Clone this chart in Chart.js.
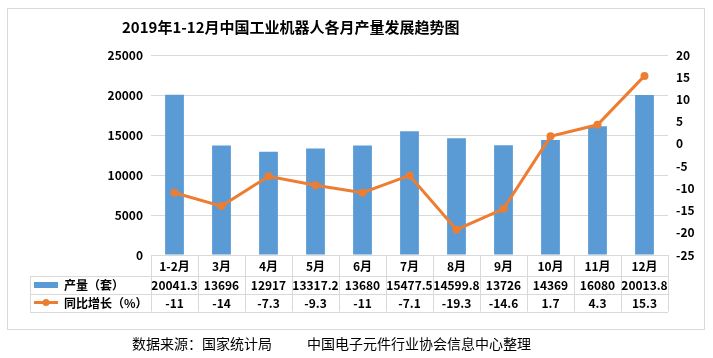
<!DOCTYPE html>
<html><head><meta charset="utf-8">
<script src="https://cdn.jsdelivr.net/npm/chart.js@4/dist/chart.umd.min.js"></script>
<style>html,body{margin:0;padding:0;background:#fff;}canvas{display:block;}</style>
</head><body>
<canvas id="c" width="713" height="358"></canvas>
<script>
const categories = ['1-2月','3月','4月','5月','6月','7月','8月','9月','10月','11月','12月'];
const output = [20041.3,13696,12917,13317.2,13680,15477.5,14599.8,13726,14369,16080,20013.8];
const growth = [-11,-14,-7.3,-9.3,-11,-7.1,-19.3,-14.6,1.7,4.3,15.3];
const outputLabels = ['20041.3','13696','12917','13317.2','13680','15477.5','14599.8','13726','14369','16080','20013.8'];
const growthLabels = ['-11','-14','-7.3','-9.3','-11','-7.1','-19.3','-14.6','1.7','4.3','15.3'];
const titleText = '2019年1-12月中国工业机器人各月产量发展趋势图';
const seriesNames = ['产量（套）','同比增长（%）'];
const footerLeft = '数据来源：国家统计局';
const footerRight = '中国电子元件行业协会信息中心整理';

const BLUE = '#5B9BD5', ORANGE = '#ED7D31', GRID = '#D9D9D9';
const FONT = '"Noto Sans CJK SC","Microsoft YaHei",sans-serif';

const decor = {
  id: 'decor',
  beforeDraw(chart) {
    const ctx = chart.ctx;
    ctx.save();
    ctx.fillStyle = '#fff';
    ctx.fillRect(0, 0, chart.width, chart.height);
    ctx.strokeStyle = GRID; ctx.lineWidth = 1;
    ctx.strokeRect(7.5, 8.5, 697, 321);
    ctx.restore();
  },
  afterDraw(chart) {
    const ctx = chart.ctx;
    const x = chart.scales.x;
    const area = chart.chartArea;
    const n = categories.length;
    const colW = (area.right - area.left) / n;
    const yTop = area.bottom, r1 = yTop + 21, r2 = r1 + 17.5, r3 = r2 + 18;
    const tableLeft = 30;
    ctx.save();
    ctx.strokeStyle = GRID; ctx.lineWidth = 1;
    ctx.beginPath();
    for (let i = 0; i <= n; i++) {
      const px = Math.round(area.left + i * colW) + 0.5;
      ctx.moveTo(px, yTop); ctx.lineTo(px, r3);
    }
    ctx.moveTo(tableLeft + 0.5, r1); ctx.lineTo(tableLeft + 0.5, r3);
    [r1, r2, r3].forEach(y => { const yy = Math.round(y) + 0.5; ctx.moveTo(tableLeft, yy); ctx.lineTo(area.right, yy); });
    ctx.stroke();

    ctx.fillStyle = '#000';
    ctx.font = 'bold 12px ' + FONT;
    ctx.textAlign = 'center'; ctx.textBaseline = 'middle';
    for (let i = 0; i < n; i++) {
      const cx = x.getPixelForValue(i);
      ctx.fillText(categories[i], cx, (yTop + r1) / 2 + 0.5);
      ctx.fillText(outputLabels[i], cx, (r1 + r2) / 2 + 0.5);
      ctx.fillText(growthLabels[i], cx, (r2 + r3) / 2 + 0.5);
    }
    // legend keys
    ctx.fillStyle = BLUE;
    ctx.fillRect(34, 282, 24, 6);
    ctx.strokeStyle = ORANGE; ctx.lineWidth = 3;
    ctx.beginPath(); ctx.moveTo(34, 302.5); ctx.lineTo(58, 302.5); ctx.stroke();
    ctx.fillStyle = ORANGE;
    ctx.beginPath(); ctx.arc(46, 302.5, 3.5, 0, Math.PI * 2); ctx.fill();
    ctx.fillStyle = '#000';
    ctx.textAlign = 'left';
    ctx.fillText(seriesNames[0], 64, (r1 + r2) / 2 + 0.5);
    ctx.fillText(seriesNames[1], 64, (r2 + r3) / 2 + 0.5);

    // title
    ctx.font = 'bold 15px ' + FONT;
    ctx.fillText(titleText, 122, 27);
    // footer
    ctx.font = '14px ' + FONT;
    ctx.fillText(footerLeft, 132, 344);
    ctx.fillText(footerRight, 307, 344);
    ctx.restore();
  }
};

const plain = v => String(v);

new Chart(document.getElementById('c'), {
  data: {
    labels: categories,
    datasets: [
      { type: 'line', label: seriesNames[1], data: growth, yAxisID: 'y1',
        borderColor: ORANGE, backgroundColor: ORANGE, borderWidth: 3,
        pointRadius: 4, pointBackgroundColor: ORANGE, pointBorderWidth: 0, tension: 0, order: 0 },
      { type: 'bar', label: seriesNames[0], data: output, yAxisID: 'y',
        backgroundColor: BLUE, categoryPercentage: 1, barPercentage: 0.4, order: 1 }
    ]
  },
  options: {
    responsive: false, animation: false, devicePixelRatio: 1,
    layout: { padding: { top: 55, bottom: 103, left: 0, right: 0 } },
    plugins: { legend: { display: false }, tooltip: { enabled: false }, title: { display: false } },
    scales: {
      x: { display: false, offset: true },
      y: { position: 'left', min: 0, max: 25000,
        ticks: { stepSize: 5000, padding: 8, color: '#000', callback: plain, font: { family: FONT, size: 12, weight: 'bold' } },
        grid: { color: GRID, drawTicks: false }, border: { display: false },
        afterFit(s) { s.width = 151; } },
      y1: { position: 'right', min: -25, max: 20,
        ticks: { stepSize: 5, padding: 8, color: '#000', callback: plain, font: { family: FONT, size: 12, weight: 'bold' } },
        grid: { display: false, drawTicks: false }, border: { display: false },
        afterFit(s) { s.width = 45; } }
    }
  },
  plugins: [decor]
});
</script>
</body></html>
